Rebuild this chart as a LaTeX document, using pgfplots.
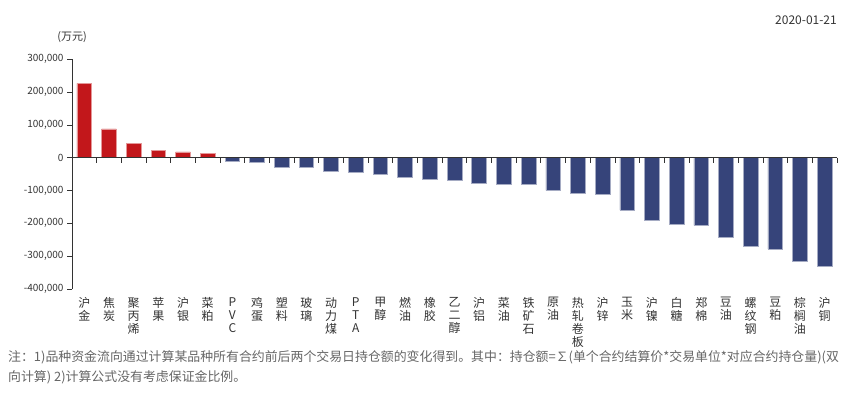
\documentclass[border=0pt]{standalone}
\usepackage{fontspec}
\setmainfont{Noto Sans CJK SC}
\usepackage{pgfplots}
\pgfplotsset{compat=1.18}
\definecolor{barred}{RGB}{194,23,27}
\definecolor{barblue}{RGB}{54,68,122}
\definecolor{axisgray}{RGB}{51,51,51}
\definecolor{notegray}{RGB}{102,102,102}
\begin{document}
\begin{tikzpicture}[x=1pt,y=1pt]
\useasboundingbox (0,0) rectangle (867,399);
\begin{axis}[
  at={(72pt,110pt)}, anchor=south west,
  scale only axis, width=765pt, height=230pt,
  xmin=-0.5, xmax=30.5, ymin=-400000, ymax=300000,
  axis x line*=bottom, axis y line*=left,
  x axis line style={draw=none},
  y axis line style={draw=axisgray},
  xtick={0,...,30},
  xtick style={draw=none},
  xticklabels={{沪\\金},{焦\\炭},{聚\\丙\\烯},{苹\\果},{沪\\银},{菜\\粕},{P\\V\\C},{鸡\\蛋},{塑\\料},{玻\\璃},{动\\力\\煤},{P\\T\\A},{甲\\醇},{燃\\油},{橡\\胶},{乙\\二\\醇},{沪\\铝},{菜\\油},{铁\\矿\\石},{原\\油},{热\\轧\\卷\\板},{沪\\锌},{玉\\米},{沪\\镍},{白\\糖},{郑\\棉},{豆\\油},{螺\\纹\\钢},{豆\\粕},{棕\\榈\\油},{沪\\铜}},
  xticklabel style={align=center, anchor=north, font=\fontsize{12}{13}\selectfont, text=axisgray},
  scaled y ticks=false,
  ytick={-400000,-300000,-200000,-100000,0,100000,200000,300000},
  yticklabels={{-400,000},{-300,000},{-200,000},{-100,000},0,{100,000},{200,000},{300,000}},
  yticklabel style={font=\fontsize{10}{12}\selectfont, text=axisgray},
  ytick style={draw=axisgray},
  tick align=outside, major tick length=5pt,
  clip=false,
]
\addplot[ybar, bar shift=0pt, bar width=14.7pt, fill=barred, draw=barred!45, line width=0.7pt]
 coordinates {(0,226000) (1,87000) (2,42000) (3,21000) (4,17000) (5,13000)};
\addplot[ybar, bar shift=0pt, bar width=14.7pt, fill=barblue, draw=barblue!45, line width=0.7pt]
 coordinates {(6,-11000) (7,-14000) (8,-28500) (9,-31000) (10,-43000) (11,-46000) (12,-52000) (13,-60000) (14,-67000) (15,-70000) (16,-79000) (17,-82000) (18,-82000) (19,-100000) (20,-109000) (21,-112000) (22,-160000) (23,-191000) (24,-204000) (25,-206000) (26,-243000) (27,-270000) (28,-279000) (29,-316000) (30,-330000)};
\draw[axisgray, line width=0.8pt] (axis cs:-0.5,0) -- (axis cs:30.5,0);
\pgfplotsinvokeforeach{0,...,30}{\draw[axisgray, line width=0.8pt] (axis cs:#1+0.5,0) -- ([yshift=-5pt]axis cs:#1+0.5,0);}
\end{axis}
\node[font=\fontsize{11}{13}\selectfont, text=axisgray] at (72,362) {(万元)};
\node[anchor=east, font=\fontsize{12}{14}\selectfont, text=axisgray, inner sep=0] at (837,379) {2020-01-21};
\node[anchor=north west, align=left, font=\fontsize{12.9}{20}\selectfont, text=notegray, inner sep=0] at (8,49) {注：1)品种资金流向通过计算某品种所有合约前后两个交易日持仓额的变化得到。其中：持仓额=∑(单个合约结算价*交易单位*对应合约持仓量)(双\\向计算) 2)计算公式没有考虑保证金比例。};
\end{tikzpicture}
\end{document}
